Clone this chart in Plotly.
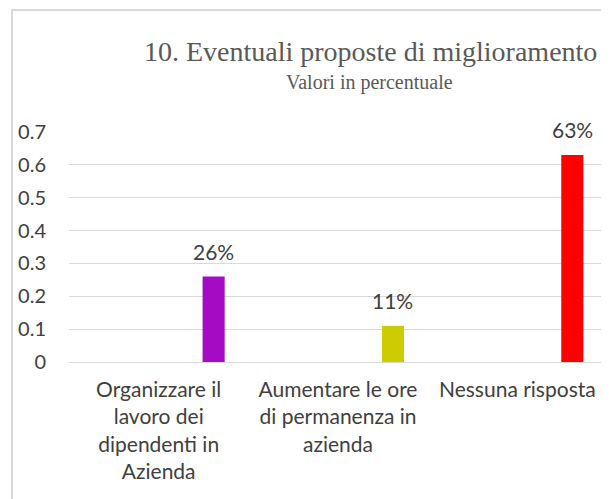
import plotly.graph_objects as go

categories = [
    "Organizzare il<br>lavoro dei<br>dipendenti in<br>Azienda",
    "Aumentare le ore<br>di permanenza in<br>azienda",
    "Nessuna risposta",
]
values = [0.26, 0.11, 0.63]
colors = ["#A50AC4", "#CCCC00", "#FF0000"]
y_ticks = [0, 0.1, 0.2, 0.3, 0.4, 0.5, 0.6, 0.7]
y_tick_labels = ["0", "0.1", "0.2", "0.3", "0.4", "0.5", "0.6", "0.7"]

# page body has an 8px margin, so the figure is drawn 8px in from the window edge
OFF = 8
W, H = 609 - OFF, 499 - OFF
L, R, T, B = 69 - OFF, 2, 132 - OFF, H - (362 - OFF)
plot_w = W - L - R
plot_h = H - T - B

bar_w = 0.123
bar_off = 0.245
SANS = "Lato, Liberation Sans, sans-serif"
SERIF = "Liberation Serif, DejaVu Serif, serif"

fig = go.Figure()
fig.add_trace(go.Bar(
    x=categories, y=values,
    marker=dict(color=colors, line=dict(width=0)),
    width=bar_w, offset=bar_off,
    hoverinfo="skip",
))

annotations = []
for i, v in enumerate(values):
    annotations.append(dict(
        x=i + bar_off + bar_w / 2, y=v, xref="x", yref="y",
        text=f"{round(v*100)}%", showarrow=False,
        yanchor="bottom", yshift=11,
        font=dict(family=SANS, size=21, color="#404040"),
    ))

def px_x(px):  # px given in reference-window coordinates
    return (px - OFF - L) / plot_w

def px_y(py):
    return (H - B - (py - OFF)) / plot_h

annotations.append(dict(
    x=px_x(370), y=px_y(51), xref="paper", yref="paper",
    text="10. Eventuali proposte di miglioramento", showarrow=False,
    xanchor="center", yanchor="middle",
    font=dict(family=SERIF, size=28, color="#595959"),
))
annotations.append(dict(
    x=px_x(369), y=px_y(83), xref="paper", yref="paper",
    text="Valori in percentuale", showarrow=False,
    xanchor="center", yanchor="middle",
    font=dict(family=SERIF, size=20, color="#595959"),
))

fig.update_layout(
    width=W, height=H,
    margin=dict(l=L, r=R, t=T, b=B, pad=0),
    paper_bgcolor="white", plot_bgcolor="white",
    showlegend=False,
    annotations=annotations,
    shapes=[dict(
        type="rect", xref="paper", yref="paper",
        x0=px_x(12), x1=px_x(607.5), y0=px_y(560), y1=px_y(10),
        line=dict(color="#D9D9D9", width=2), fillcolor="rgba(0,0,0,0)", layer="below",
    )],
    xaxis=dict(
        type="category", showgrid=False, zeroline=False, showline=False,
        ticks="", tickangle=0, ticklabelstandoff=13,
        tickfont=dict(family=SANS, size=21, color="#404040"),
        range=[-0.5, 2.5],
    ),
    yaxis=dict(
        range=[0, 0.7], tickvals=y_ticks, ticktext=y_tick_labels,
        showgrid=True, gridcolor="#D9D9D9", gridwidth=1.3,
        zeroline=True, zerolinecolor="#D9D9D9", zerolinewidth=1.3,
        showline=False, ticks="", ticklabelstandoff=22,
        tickfont=dict(family=SANS, size=20, color="#404040"),
    ),
)

fig.write_html("out.html")
